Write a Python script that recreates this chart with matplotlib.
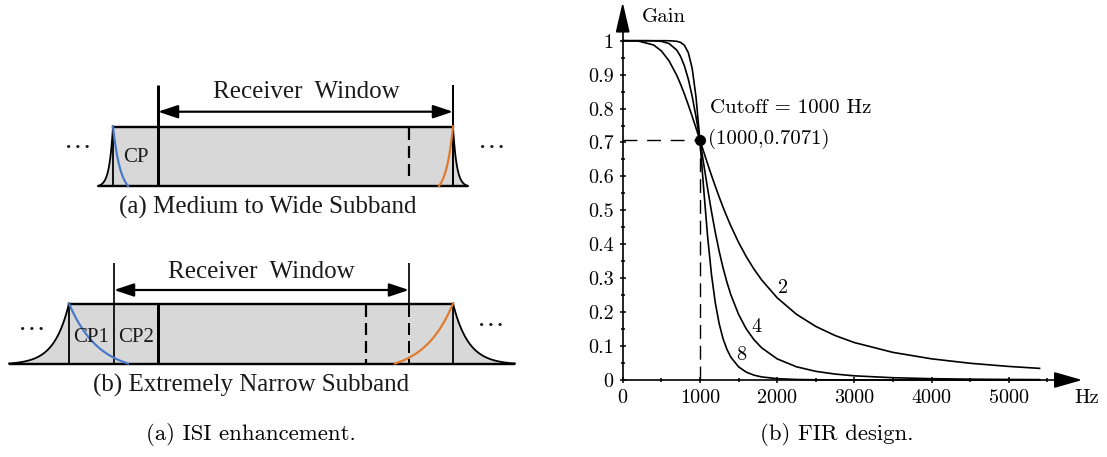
import numpy as np
import matplotlib
matplotlib.use("Agg")
import matplotlib.pyplot as plt
from matplotlib.patches import Polygon

plt.rcParams['lines.scale_dashes'] = False
plt.rcParams['axes.unicode_minus'] = False

# ---------------- data ----------------
freq_hz = [0, 200, 400, 500, 600, 700, 750, 800, 850, 900, 950, 1000, 1050, 1100,
           1150, 1200, 1250, 1300, 1350, 1400, 1500, 1600, 1700, 1800, 2000, 2250,
           2500, 2750, 3000, 3500, 4000, 4500, 5000, 5400]
gain_order2 = [1.0, 0.9992, 0.9874, 0.9701, 0.9409, 0.8980, 0.8716, 0.8423, 0.8106,
               0.7771, 0.7424, 0.7071, 0.6718, 0.6370, 0.6031, 0.5704, 0.5391, 0.5092,
               0.4810, 0.4545, 0.4061, 0.3638, 0.3270, 0.2949, 0.2425, 0.1938, 0.1580,
               0.1311, 0.1104, 0.0814, 0.0624, 0.0493, 0.0400, 0.0343]
gain_order4 = [1.0, 1.0, 0.9997, 0.9981, 0.9917, 0.9724, 0.9534, 0.9254, 0.8865,
               0.8361, 0.7754, 0.7071, 0.6353, 0.5640, 0.4964, 0.4344, 0.3790, 0.3305,
               0.2883, 0.2519, 0.1938, 0.1508, 0.1189, 0.0948, 0.0624, 0.0390, 0.0256,
               0.0175, 0.0123, 0.0067, 0.0039, 0.0024, 0.0016, 0.0012]
gain_order8 = [1.0, 1.0, 1.0, 1.0, 0.9999, 0.9983, 0.9950, 0.9862, 0.9648, 0.9185,
               0.8333, 0.7071, 0.5605, 0.4228, 0.3107, 0.2265, 0.1655, 0.1217, 0.0903,
               0.0676, 0.0390, 0.0233, 0.0143, 0.0091, 0.0039, 0.0015, 0.0007, 0.0003,
               0.0002, 0.0, 0.0, 0.0, 0.0, 0.0]
curve_labels = ["2", "4", "8"]
cutoff_hz = 1000
cutoff_gain = 0.7071
x_major = [0, 1000, 2000, 3000, 4000, 5000]
x_minor = [500, 1500, 2500, 3500, 4500, 5500]
y_major = [0, 0.1, 0.2, 0.3, 0.4, 0.5, 0.6, 0.7, 0.8, 0.9, 1.0]
y_minor = [0.05, 0.15, 0.25, 0.35, 0.45, 0.55, 0.65, 0.75, 0.85, 0.95]
x_ticklabels = ["0", "1000", "2000", "3000", "4000", "5000"]
y_ticklabels = ["0", "0.1", "0.2", "0.3", "0.4", "0.5", "0.6", "0.7", "0.8", "0.9", "1"]

CM = 'cmr10'
TNR = 'Liberation Serif'
GRAY = '#d8d8d8'
BLUE = '#4a78c8'
ORANGE = '#e07b2e'
INK = '#1a1a1a'

W, H = 1107, 457
fig = plt.figure(figsize=(W / 100, H / 100), dpi=100)
fig.patch.set_facecolor('white')

# ---------------- left: schematic (pixel-unit canvas) ----------------
ax0 = fig.add_axes([0, 0, 1, 1])
ax0.set_xlim(0, W)
ax0.set_ylim(H, 0)
ax0.axis('off')

PX = 1 / 1.389  # points per pixel


def tail(xc, yb, yt, ext, direction, k=4.0, n=80):
    u = np.linspace(0, 1, n)
    h = (np.exp(-k * u) - np.exp(-k)) / (1 - np.exp(-k))
    return xc + direction * ext * u, yb - (yb - yt) * h


def decay(x0, x1, yt, yb, k=2.0, n=80):
    u = np.linspace(0, 1, n)
    f = (1 - np.exp(-k * u)) / (1 - np.exp(-k))
    return x0 + (x1 - x0) * u, yt + (yb - yt) * f


def panel(p):
    yb, yt = p['base_y'], p['top_y']
    lx, ly = tail(p['top_x0'], yb, yt, p['top_x0'] - p['base_x0'], -1)
    rx, ry = tail(p['top_x1'], yb, yt, p['base_x1'] - p['top_x1'], +1)
    poly = list(zip(lx[::-1], ly[::-1])) + list(zip(rx, ry))
    ax0.add_patch(Polygon(poly, closed=True, facecolor=GRAY, edgecolor='none', zorder=1))
    ax0.plot(lx, ly, color='black', lw=1.8 * PX, zorder=3)
    ax0.plot(rx, ry, color='black', lw=1.8 * PX, zorder=3)
    ax0.plot([p['base_x0'], p['base_x1']], [yb, yb], color='black', lw=2.4 * PX, zorder=3,
             solid_capstyle='butt')
    ax0.plot([p['top_x0'], p['top_x1']], [yt, yt], color='black', lw=2.4 * PX, zorder=3)
    for x in (p['top_x0'], p['top_x1']):
        ax0.plot([x, x], [yt, yb], color='black', lw=1.8 * PX, zorder=3)
    bx, by = decay(p['top_x0'], p['blue_end'], yt, yb)
    ax0.plot(bx, by, color=BLUE, lw=2.2 * PX, zorder=4)
    ox, oy = decay(p['top_x1'], p['orange_start'], yt, yb)
    ax0.plot(ox, oy, color=ORANGE, lw=2.2 * PX, zorder=4)
    for (x, y0, y1, lw, ls) in p['verticals']:
        line, = ax0.plot([x, x], [y0, y1], color='black', lw=lw * PX, zorder=3,
                         solid_capstyle='butt')
        if ls == 'dash':
            line.set_dashes((12 * PX, 6 * PX))
    ax0.annotate('', xy=(p['win_x1'], p['arrow_y']), xytext=(p['win_x0'], p['arrow_y']),
                 arrowprops=dict(arrowstyle='<|-|>,head_length=0.6,head_width=0.2',
                                 mutation_scale=20, lw=2.2 * PX, color='black',
                                 shrinkA=0, shrinkB=0), zorder=5)
    ax0.text(p['title_x'], p['title_y'], 'Receiver  Window', family=TNR, fontsize=18,
             ha='center', va='baseline', color=INK, zorder=5)
    for (s, x, y) in p['cp']:
        ax0.text(x, y, s, family=TNR, fontsize=15, ha='center', va='center',
                 color=INK, zorder=5)
    for (x, y) in p['dots']:
        ax0.text(x, y, '\u00b7\u00b7\u00b7', family=TNR, fontsize=20, ha='center',
                 va='center', color=INK, zorder=5)
    ax0.text(p['cap_x'], p['cap_y'], p['caption'], family=TNR, fontsize=18,
             ha='center', va='center', color=INK, zorder=5)


panel_a = dict(base_y=186, top_y=126.5, base_x0=98, top_x0=113, top_x1=453, base_x1=468,
               blue_end=128, orange_start=439, win_x0=158, win_x1=453, arrow_y=111.7,
               verticals=[(158, 85, 186, 3.0, 'solid'), (453, 85, 186, 2.0, 'solid'),
                          (409, 128, 176, 2.2, 'dash')],
               title_x=306, title_y=98, cp=[('CP', 136, 157)],
               dots=[(78, 150), (492, 150)], cap_x=268, cap_y=207,
               caption='(a) Medium to Wide Subband')
panel_b = dict(base_y=363.5, top_y=303.5, base_x0=9, top_x0=69, top_x1=453, base_x1=515,
               blue_end=128, orange_start=395, win_x0=114, win_x1=409, arrow_y=290,
               verticals=[(114, 263, 363.5, 1.7, 'solid'), (409, 263, 303.5, 1.7, 'solid'),
                          (409, 305, 363, 2.0, 'dash'), (366, 305, 363, 2.2, 'dash'),
                          (158, 303.5, 363.5, 3.0, 'solid')],
               title_x=261.5, title_y=278.5, cp=[('CP1', 91.5, 338), ('CP2', 136.5, 338)],
               dots=[(32, 331), (491, 328)], cap_x=251, cap_y=385,
               caption='(b) Extremely Narrow Subband')
panel(panel_a)
panel(panel_b)

ax0.text(251, 435, '(a) ISI enhancement.', family=CM, fontsize=16.4, ha='center', va='center')
ax0.text(837, 435, '(b) FIR design.', family=CM, fontsize=16.4, ha='center', va='center')

# ---------------- right: FIR design plot ----------------
x_px0, x_px_per_k = 622.7, 77.2
y_px0, y_px_per_1 = 380.0, 339.3
XMAX, YMAX = 6000, 1.12
ax = fig.add_axes([x_px0 / W, (H - y_px0) / H, XMAX / 1000 * x_px_per_k / W,
                   YMAX * y_px_per_1 / H])
ax.set_xlim(0, XMAX)
ax.set_ylim(0, YMAX)
ax.patch.set_alpha(0)
for s in ('top', 'right'):
    ax.spines[s].set_visible(False)
for s in ('left', 'bottom'):
    ax.spines[s].set_linewidth(1.2)
ax.spines['left'].set_bounds(0, 1.03)
ax.spines['bottom'].set_bounds(0, 5600)

ax.set_xticks(x_major)
ax.set_xticklabels(x_ticklabels, family=CM, fontsize=14.5)
ax.set_xticks(x_minor, minor=True)
ax.set_yticks(y_major)
ax.set_yticklabels(y_ticklabels, family=CM, fontsize=14.5)
ax.set_yticks(y_minor, minor=True)
ax.tick_params(which='major', direction='inout', length=5, width=1.1, pad=4)
ax.tick_params(which='minor', direction='inout', length=3.2, width=1.1)

ax.add_patch(Polygon([(-80, 1.026), (80, 1.026), (0, 1.105)], closed=True,
                     facecolor='black', edgecolor='black', clip_on=False, zorder=5))
ax.add_patch(Polygon([(5596, -0.021), (5596, 0.021), (5920, 0)], closed=True,
                     facecolor='black', edgecolor='black', clip_on=False, zorder=5))

for g in (gain_order2, gain_order4, gain_order8):
    ax.plot(freq_hz, g, color='black', lw=1.2, clip_on=False, zorder=4)

l1, = ax.plot([0, cutoff_hz], [cutoff_gain, cutoff_gain], color='black', lw=1.0)
l2, = ax.plot([cutoff_hz, cutoff_hz], [0, cutoff_gain], color='black', lw=1.0)
l1.set_dashes((10, 7))
l2.set_dashes((10, 5))
ax.plot([cutoff_hz], [cutoff_gain], 'o', color='black', ms=7, zorder=6)

label_pos = [(2070, 0.271), (1730, 0.156), (1532, 0.074)]
for s, (x, y) in zip(curve_labels, label_pos):
    ax.text(x, y, s, family=CM, fontsize=14.5, ha='center', va='center')

ax.text(1131, 0.801, 'Cutoff = 1000 Hz', family=CM, fontsize=15, ha='left', va='center')
ax.text(1109, 0.709, '(1000,0.7071)', family=CM, fontsize=15, ha='left', va='center')
ax.text(527, 1.069, 'Gain', family=CM, fontsize=15, ha='center', va='center', clip_on=False)
ax.text(6010, -0.053, 'Hz', family=CM, fontsize=15, ha='center', va='center', clip_on=False)

fig.savefig('out.png', dpi=100)
